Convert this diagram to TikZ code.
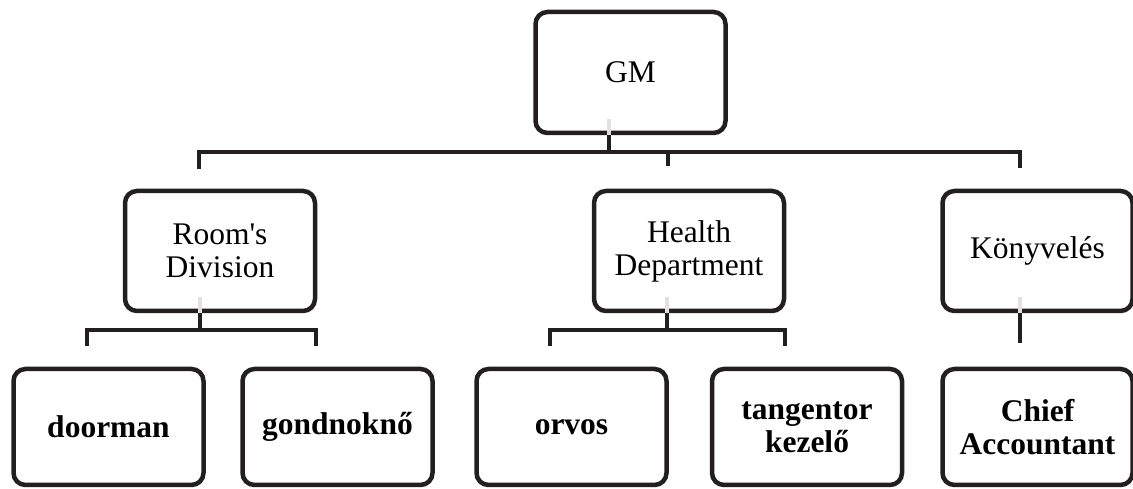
\documentclass[tikz,border=0pt]{standalone}
\usepackage{fontspec}
\setmainfont[Ligatures=TeXOff]{Liberation Serif}
\usetikzlibrary{calc}
\definecolor{lineblk}{RGB}{35,31,32}
\definecolor{lightseg}{RGB}{225,225,225}
\tikzset{
  orgbox/.style={draw=lineblk, line width=4.5pt, rounded corners=12pt, fill=white,
    minimum width=190pt, align=center, inner sep=0pt,
    font=\fontsize{31.5}{33}\selectfont},
  topbox/.style={orgbox, minimum height=121pt},
  midbox/.style={orgbox, minimum height=120pt},
  lowbox/.style={orgbox, minimum height=116pt, font=\fontsize{31.5}{33}\selectfont\bfseries},
  conn/.style={draw=lineblk, line width=4.5pt},
  ghost/.style={draw=lightseg, line width=4.5pt}
}
\begin{document}
\begin{tikzpicture}[x=1pt,y=1pt]
\useasboundingbox (0,0) rectangle (1133,489);
% boxes
\node[topbox] (gm) at (630.5,416.5) {GM};
\node[midbox] (rd) at (220,238) {Room's\\Division};
\node[midbox] (hd) at (689,238) {Health\\Department};
\node[midbox] (kv) at (1037.5,238) {Könyvelés};
\node[lowbox] (dm) at (108.5,62) {doorman};
\node[lowbox] (gn) at (337.5,62) {gondnoknő};
\node[lowbox] (ov) at (571.5,62) {orvos};
\node[lowbox] (tk) at (807,62) {tangentor\\kezelő};
\node[lowbox] (ca) at (1037.5,62) {Chief\\Accountant};
% connector coordinates
\coordinate (gmout) at ($(gm.south)+(-21.5,0)$);
\coordinate (gmbus) at (gmout |- 0,337);
\coordinate (busL) at (199,337);
\coordinate (busR) at (1020,337);
\coordinate (stubL) at (199,322);
\coordinate (stubM) at (668,323);
\coordinate (stubMt) at (668,337);
\coordinate (stubR) at (1020,323);
\coordinate (rdout) at ($(rd.south)+(-20,0)$);
\coordinate (rdbus) at (rdout |- 0,159);
\coordinate (rbusL) at (87,159);
\coordinate (rbusR) at (316,159);
\coordinate (rstubL) at (87,145);
\coordinate (rstubR) at (316,145);
\coordinate (hdout) at ($(hd.south)+(-22,0)$);
\coordinate (hdbus) at (hdout |- 0,159);
\coordinate (hbusL) at (550,159);
\coordinate (hbusR) at (785,159);
\coordinate (hstubL) at (550,145);
\coordinate (hstubR) at (785,145);
\coordinate (kvout) at ($(kv.south)+(-17.5,0)$);
\coordinate (kvend) at (kvout |- 0,146);
% GM level
\draw[conn] (gmout) -- (gmbus);
\draw[conn, line cap=rect] (stubL) -- (busL) -- (busR) -- (stubR);
\draw[conn] (stubMt) -- (stubM);
\draw[ghost] (gmout) -- ++(0,16);
% Room's Division
\draw[conn] (rdout) -- (rdbus);
\draw[conn, line cap=rect] (rstubL) -- (rbusL) -- (rbusR) -- (rstubR);
\draw[ghost] (rdout) -- ++(0,16);
% Health Department
\draw[conn] (hdout) -- (hdbus);
\draw[conn, line cap=rect] (hstubL) -- (hbusL) -- (hbusR) -- (hstubR);
\draw[ghost] (hdout) -- ++(0,16);
% Konyveles
\draw[conn] (kvout) -- (kvend);
\draw[ghost] (kvout) -- ++(0,16);
\end{tikzpicture}
\end{document}
